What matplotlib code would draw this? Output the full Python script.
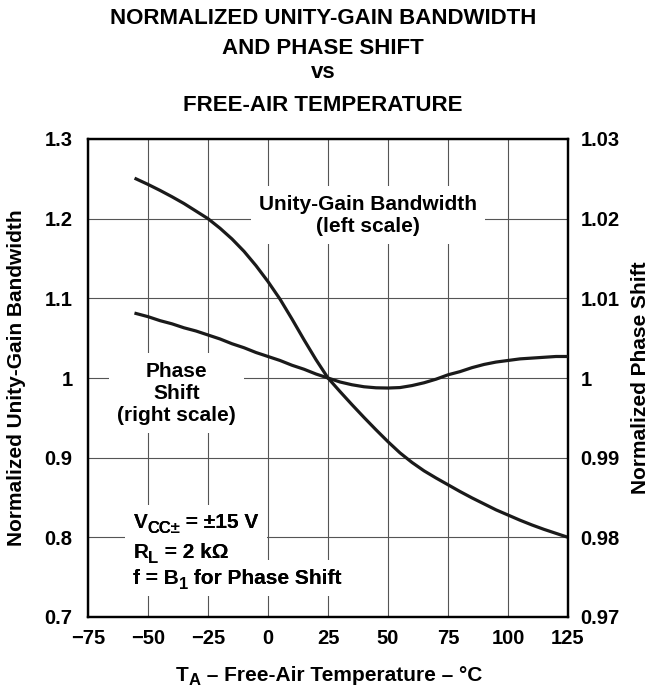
import matplotlib.pyplot as plt
from matplotlib.transforms import offset_copy

plt.rcParams['font.family'] = ['Liberation Sans', 'DejaVu Sans']
plt.rcParams['font.weight'] = 'bold'

# data
temps = [-55, -50, -45, -40, -35, -30, -25, -20, -15, -10, -5, 0, 5, 10, 15, 20, 25,
         30, 35, 40, 45, 50, 55, 60, 65, 70, 75, 80, 85, 90, 95, 100, 105, 110, 115, 120, 125]
ugb = [1.250, 1.243, 1.2355, 1.2275, 1.219, 1.2095, 1.200, 1.188, 1.1745, 1.159, 1.141, 1.121,
       1.099, 1.074, 1.048, 1.023, 1.000, 0.983, 0.9665, 0.9505, 0.935, 0.920, 0.906, 0.894,
       0.8835, 0.8745, 0.866, 0.8575, 0.8495, 0.842, 0.8345, 0.828, 0.8215, 0.8155, 0.810,
       0.805, 0.800]
phase = [1.0081, 1.0077, 1.0072, 1.0068, 1.0063, 1.0059, 1.0054, 1.0049, 1.0043, 1.0038,
         1.0032, 1.0027, 1.0022, 1.0016, 1.0011, 1.0005, 1.0000, 0.9995, 0.99915, 0.9989,
         0.99877, 0.99874, 0.9988, 0.99905, 0.9994, 0.99985, 1.0004, 1.0008, 1.0013, 1.0017,
         1.0020, 1.0022, 1.0024, 1.0025, 1.0026, 1.0027, 1.0027]

x_ticks = [-75, -50, -25, 0, 25, 50, 75, 100, 125]
left_ticks = [0.7, 0.8, 0.9, 1.0, 1.1, 1.2, 1.3]
left_labels = ['0.7', '0.8', '0.9', '1', '1.1', '1.2', '1.3']
right_ticks = [0.97, 0.98, 0.99, 1.0, 1.01, 1.02, 1.03]
right_labels = ['0.97', '0.98', '0.99', '1', '1.01', '1.02', '1.03']

fs = 15
sub = 12
drop = -3.6
tick_fs = 14.5
curve = '#1a1a1a'
white_box = dict(facecolor='white', edgecolor='none', boxstyle='square,pad=0.4')


def put_parts(target, base, x, y, parts, box=False, z=3):
    # writes pieces one after another so subscripts can be nearly full size
    fig = target if isinstance(target, plt.Figure) else target.figure
    r = fig.canvas.get_renderer()
    passes = [True, False] if box else [False]
    for with_box in passes:
        dx = 0.0
        for s, dy, size in parts:
            tr = offset_copy(base, fig=fig, x=dx, y=dy, units='points')
            kw = dict(bbox=white_box, zorder=z) if with_box else dict(zorder=z + 0.5)
            t = target.text(x, y, s, transform=tr, fontsize=size, ha='left',
                            va='baseline', **kw)
            dx += t.get_window_extent(renderer=r).width * 72 / fig.dpi


fig = plt.figure(figsize=(6.5, 6.9), dpi=100)
ax = fig.add_axes([88 / 650, 73 / 690, 480 / 650, 478 / 690])
ax.set_xlim(-75, 125)
ax.set_ylim(0.7, 1.3)
ax.set_xticks(x_ticks)
ax.set_yticks(left_ticks)
ax.set_yticklabels(left_labels)
ax.grid(True, color='#555555', linewidth=0.8)
ax.tick_params(axis='both', length=0, labelsize=tick_fs)
ax.tick_params(axis='y', pad=11)
ax.tick_params(axis='x', pad=9)
for s in ax.spines.values():
    s.set_linewidth(1.6)
    s.set_color('black')
ax.plot(temps, ugb, color=curve, linewidth=2.3, zorder=4)

ax.text(41.6, 1.2046, 'Unity-Gain Bandwidth\n(left scale)', ha='center', va='center',
        fontsize=fs, bbox=white_box, zorder=3)
ax.text(-38.2, 0.981, 'Phase\nShift\n(right scale)', ha='center', va='center',
        fontsize=fs, bbox=white_box, zorder=3)

put_parts(ax, ax.transData, -56.1, 0.8116,
          [('V', 0, fs), ('CC±', drop, sub), (' = ±15 V', 0, fs)], box=True)
put_parts(ax, ax.transData, -56.1, 0.7739,
          [('R', 0, fs), ('L', drop, sub), (' = 2 kΩ', 0, fs)], box=True)
put_parts(ax, ax.transData, -56.1, 0.7417,
          [('f = B', 0, fs), ('1', drop, sub), (' for Phase Shift', 0, fs)], box=True)

ax2 = ax.twinx()
ax2.set_ylim(0.97, 1.03)
ax2.set_yticks(right_ticks)
ax2.set_yticklabels(right_labels)
ax2.tick_params(axis='y', length=0, labelsize=tick_fs, pad=9)
for s in ax2.spines.values():
    s.set_linewidth(1.6)
    s.set_color('black')
ax2.plot(temps, phase, color=curve, linewidth=2.3, zorder=4)

# titles and axis labels
title_lines = ['NORMALIZED UNITY-GAIN BANDWIDTH', 'AND PHASE SHIFT', 'vs', 'FREE-AIR TEMPERATURE']
baselines = [24, 54, 78, 111]
for t, b in zip(title_lines, baselines):
    fig.text(0.497, 1 - b / 690, t, ha='center', va='baseline', fontsize=16)

put_parts(fig, fig.transFigure, 176 / 650, 1 - 681 / 690,
          [('T', 0, fs), ('A', -3.0, sub), (' – Free-Air Temperature – °C', 0, fs)])
fig.text(17 / 650, 1 - 378 / 690, 'Normalized Unity-Gain Bandwidth', rotation=90,
         ha='center', va='center', fontsize=fs)
fig.text(640 / 650, 1 - 378 / 690, 'Normalized Phase Shift', rotation=90,
         ha='center', va='center', fontsize=fs)

fig.savefig('out.png', dpi=100)
